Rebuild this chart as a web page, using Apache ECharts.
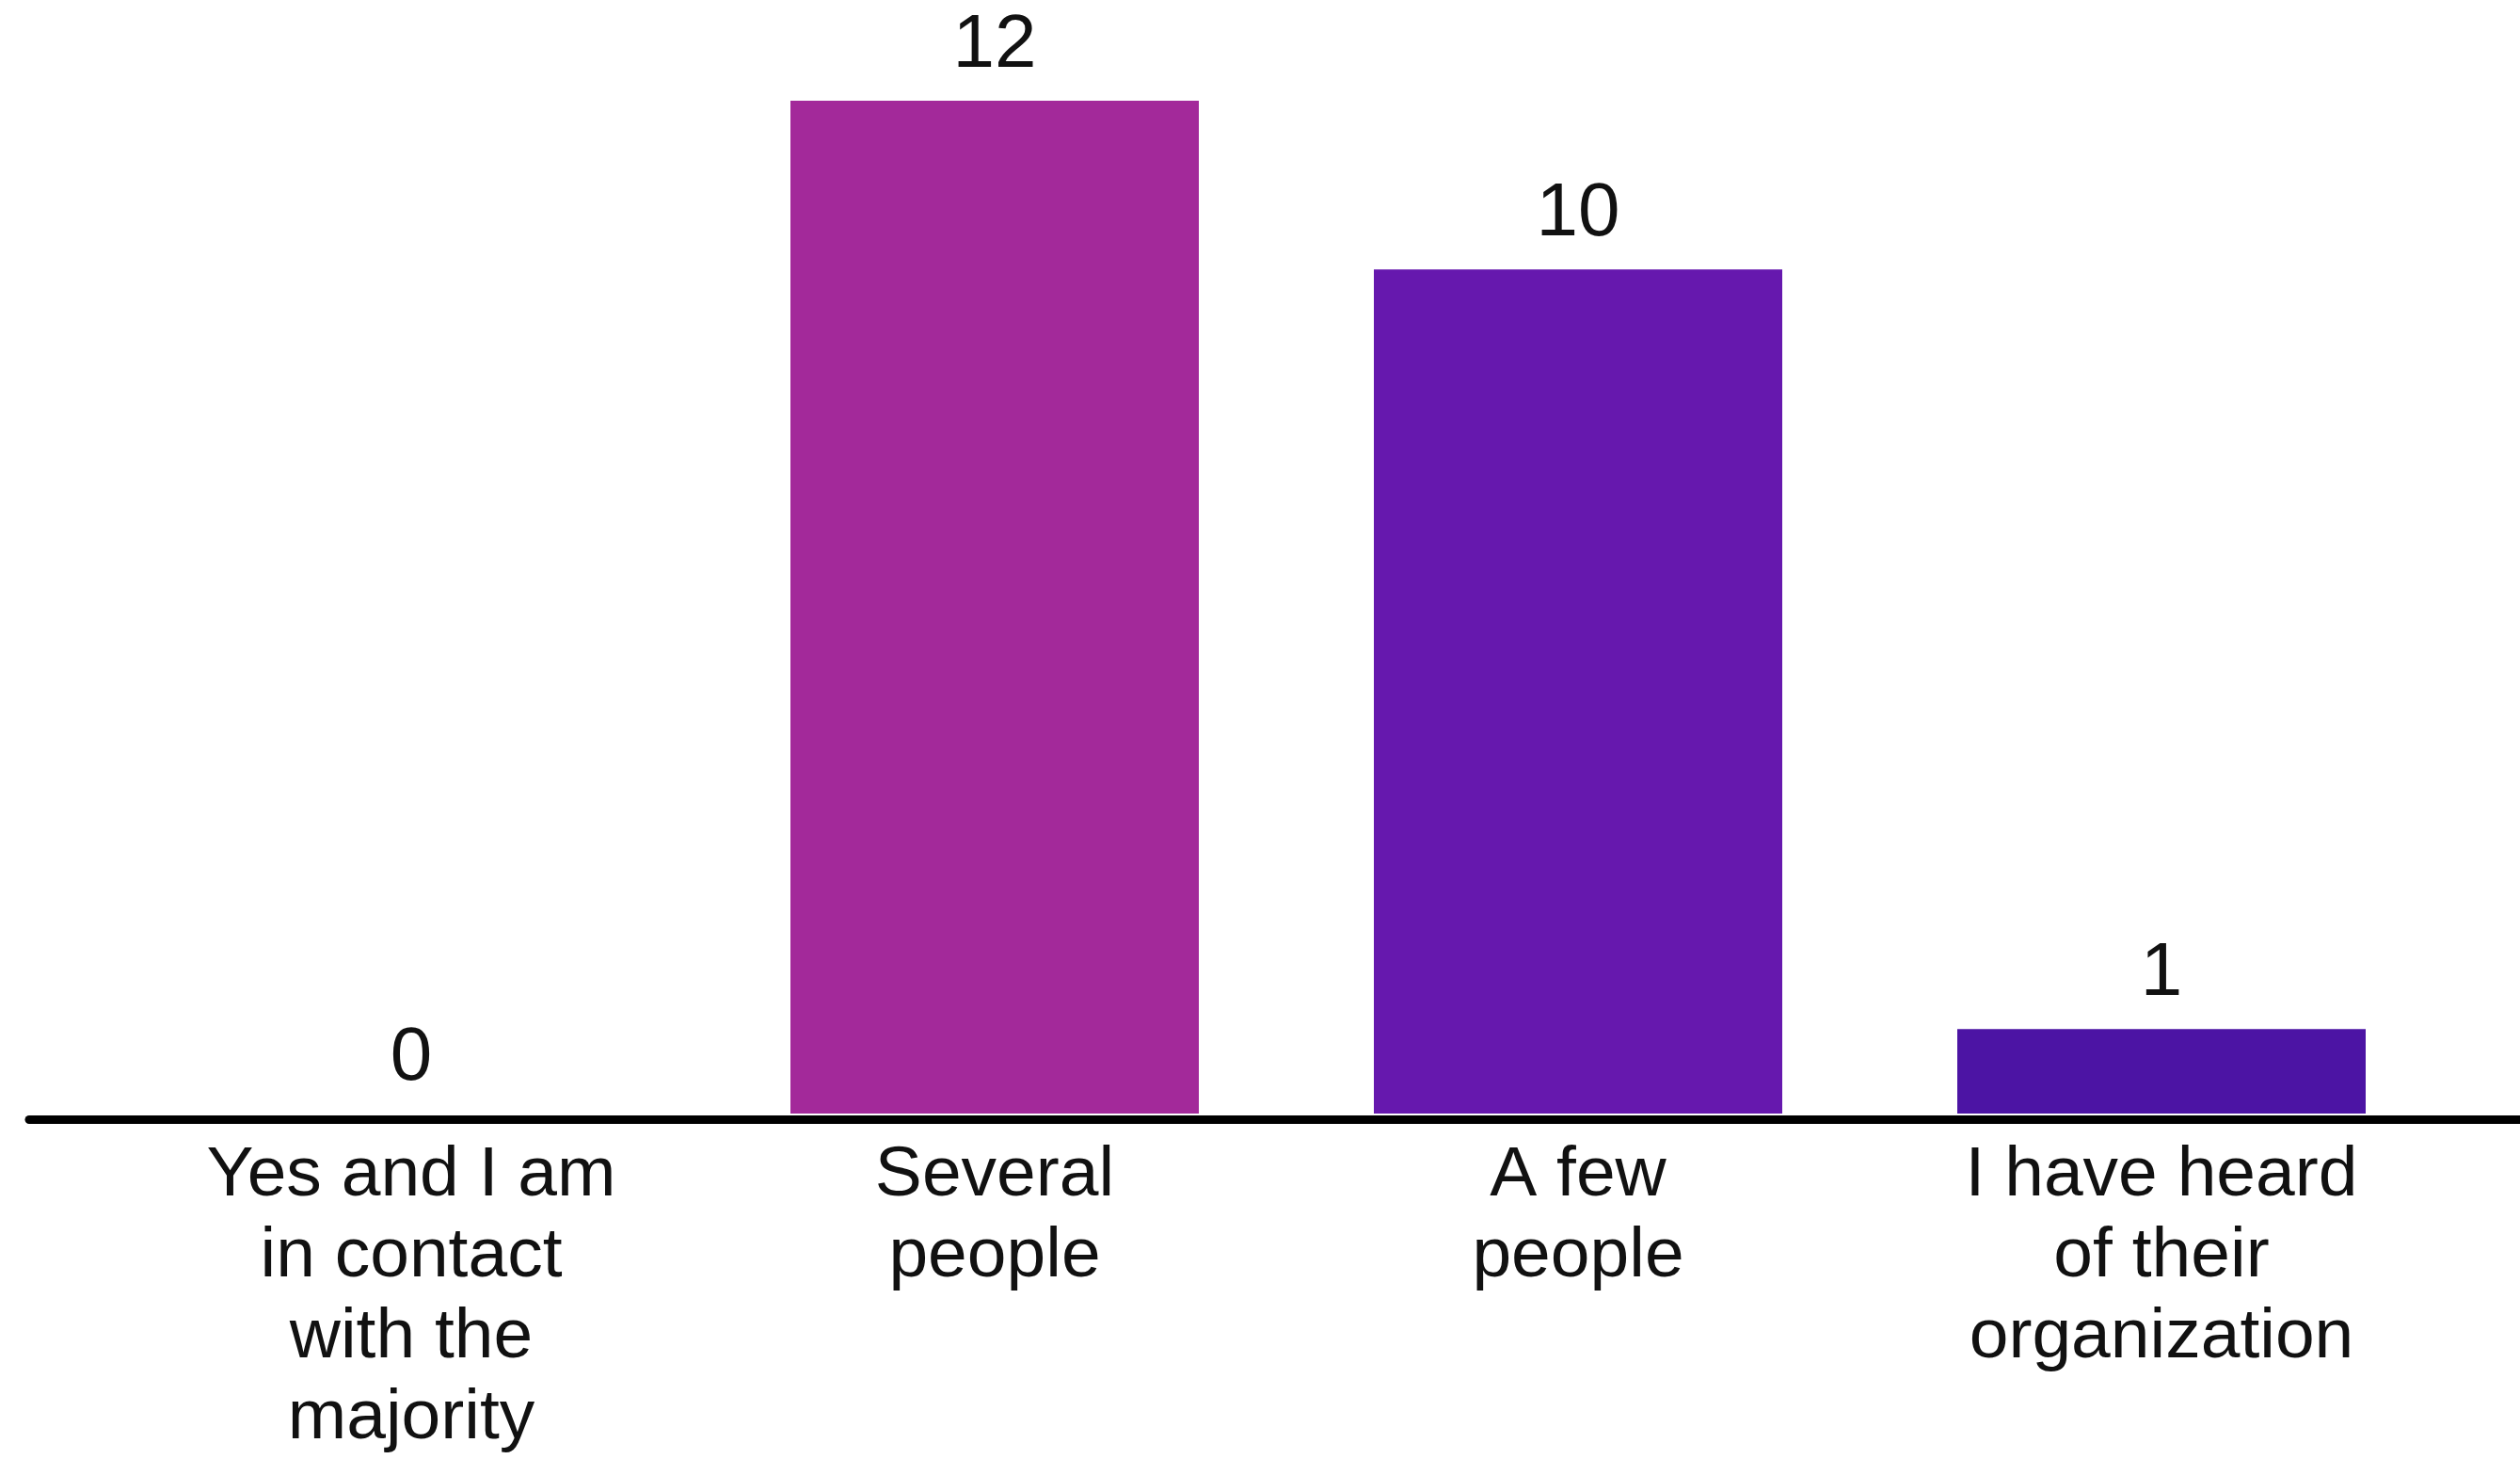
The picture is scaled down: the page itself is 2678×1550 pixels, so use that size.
<!DOCTYPE html>
<html>
<head>
<meta charset="utf-8">
<script src="https://cdn.jsdelivr.net/npm/echarts@6/dist/echarts.min.js"></script>
<style>
html,body{margin:0;padding:0;background:#fff;}
#chart{width:2678px;height:1550px;}
</style>
</head>
<body>
<div id="chart"></div>
<script>
const categories = [
  "Yes and I am\nin contact\nwith the\nmajority",
  "Several\npeople",
  "A few\npeople",
  "I have heard\nof their\norganization"
];
const values = [0, 12, 10, 1];
const barColors = ["#A3299A", "#A3299A", "#6618AE", "#4C14A4"];

const chart = echarts.init(document.getElementById('chart'), null, {renderer: 'canvas'});
const FONT = '"Liberation Sans", Arial, sans-serif';

chart.setOption({
  backgroundColor: '#ffffff',
  animation: false,
  grid: [
    {left: 127, right: 71, top: 107, bottom: 366},
    {left: 31, right: 0, top: 900, bottom: 361}
  ],
  xAxis: [
    {
      type: 'category',
      gridIndex: 0,
      data: categories,
      axisLine: {show: false},
      axisTick: {show: false},
      axisLabel: {
        interval: 0,
        margin: 23,
        color: '#111111',
        fontFamily: FONT,
        fontSize: 75,
        lineHeight: 86
      }
    },
    {
      type: 'value',
      gridIndex: 1,
      min: 0, max: 1,
      axisLine: {show: true, onZero: false, lineStyle: {color: '#000000', width: 9}},
      axisTick: {show: false},
      axisLabel: {show: false},
      splitLine: {show: false}
    }
  ],
  yAxis: [
    {type: 'value', gridIndex: 0, min: 0, max: 12, show: false, splitLine: {show: false}},
    {type: 'value', gridIndex: 1, show: false, splitLine: {show: false}}
  ],
  series: [{
    type: 'bar',
    xAxisIndex: 0,
    yAxisIndex: 0,
    barWidth: '70%',
    data: values.map((v, i) => ({value: v, itemStyle: {color: barColors[i]}})),
    label: {
      show: true,
      position: 'top',
      distance: 18,
      color: '#111111',
      fontFamily: FONT,
      fontSize: 80,
      lineHeight: 80
    }
  }]
});
</script>
</body>
</html>
